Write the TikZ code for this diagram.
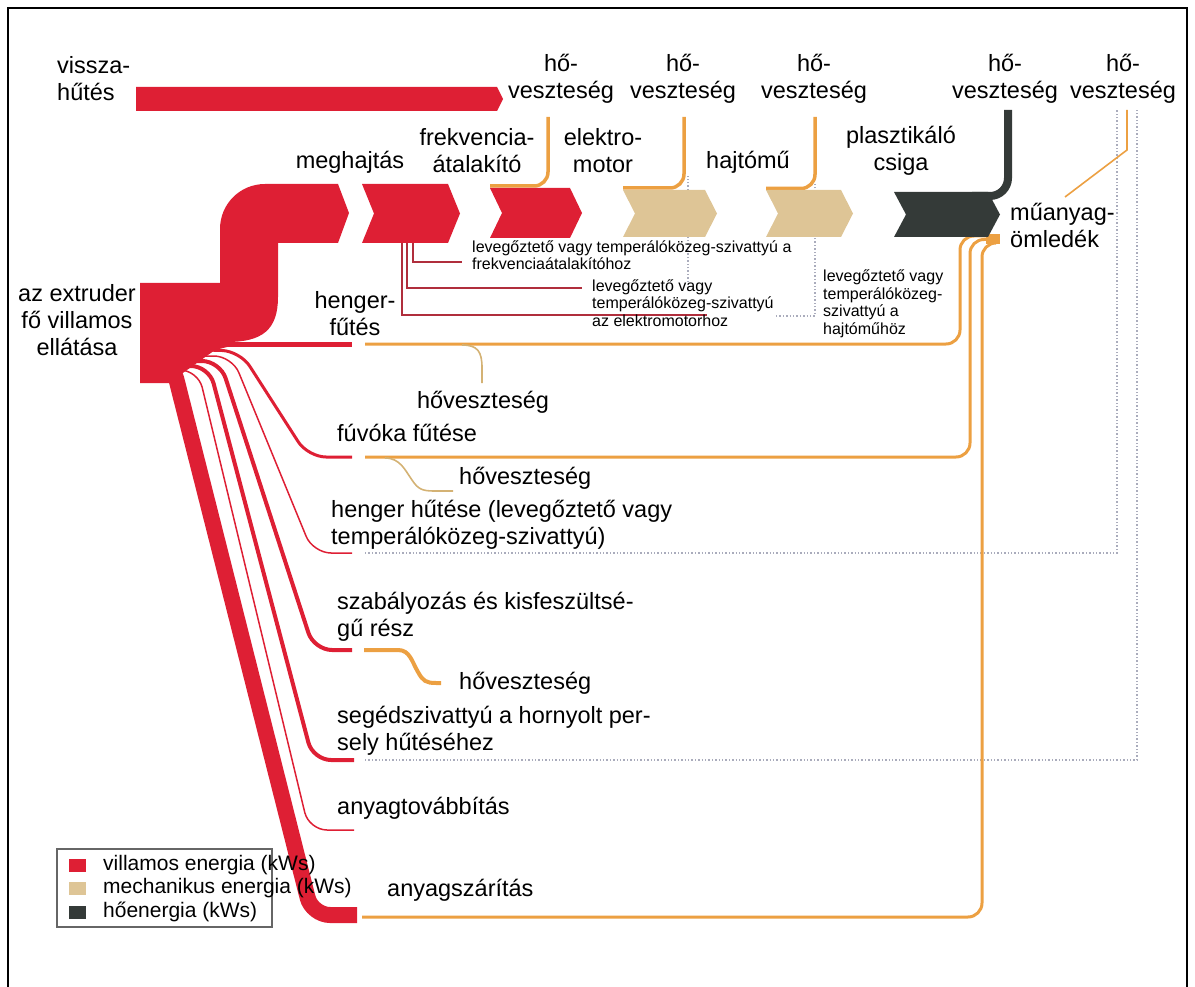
\documentclass[tikz,border=0pt]{standalone}
\usepackage{fontspec}
\setmainfont{Liberation Sans}
\usepackage{tikz}
\usetikzlibrary{shapes,arrows,chains}
\usepackage{xcolor}
\definecolor{villred}{RGB}{222,31,52}
\definecolor{wirered}{RGB}{176,46,60}
\definecolor{heatorange}{RGB}{236,160,66}
\definecolor{losstan}{RGB}{212,178,116}
\definecolor{mechtan}{RGB}{222,197,150}
\definecolor{heatdark}{RGB}{52,58,56}
\definecolor{coolgray}{RGB}{170,172,188}
\tikzset{
  big/.style={font=\fontsize{23.5}{27}\selectfont,inner sep=0pt,align=center},
  bigleft/.style={font=\fontsize{23.5}{27}\selectfont,inner sep=0pt,align=left,anchor=west},
  small/.style={font=\fontsize{16}{17.5}\selectfont,inner sep=0pt,align=left,anchor=west},
  legendtext/.style={font=\fontsize{21}{24}\selectfont,inner sep=0pt,anchor=west},
  elflow/.style={draw=villred,line width=#1,rounded corners=18pt},
  heatflow/.style={draw=heatorange,line width=#1,rounded corners=14pt},
  darkflow/.style={draw=heatdark,line width=8pt,rounded corners=18pt},
  wire/.style={draw=wirered,line width=1.4pt},
  lossline/.style={draw=losstan,line width=1.6pt},
  coolflow/.style={draw=coolgray,line width=1.4pt,dotted},
  frameline/.style={draw=black,line width=2pt},
  legendframe/.style={draw=black!60,line width=1.2pt}
}
\newcommand{\flowblock}[5]{\fill[#1] (#2,#4) -- (#3,#4) -- ({#3+12},{(#4+#5)/2}) -- (#3,#5) -- (#2,#5) -- ({#2+12},{(#4+#5)/2}) -- cycle;}

\begin{document}
\begin{tikzpicture}[x=1pt,y=-1pt]
\useasboundingbox (0,0) rectangle (1195,987);
\draw[frameline] (8,987) -- (8,8) -- (1187,8) -- (1187,987);

\draw[coolflow] (365,553) -- (1117,553) -- (1117,110);
\draw[coolflow] (365,760) -- (1137,760) -- (1137,110);
\draw[coolflow] (776,316) -- (815,316) -- (815,182);
\draw[coolflow] (688,282) -- (688,176);

\draw[heatflow=3pt] (365,344) -- (960,344) -- (960,236) -- (992,236);
\draw[heatflow=3pt] (365,457) -- (970,457) -- (970,239.5) -- (992,239.5);
\draw[heatflow=3pt] (362,917) -- (982,917) -- (982,243) -- (992,243);
\fill[heatorange] (986,234) rectangle (1000,244);

\draw[heatflow=3.5pt] (548,117) -- (548,186) -- (490,186);
\draw[heatflow=3.5pt] (684,117) -- (684,188) -- (623,188);
\draw[heatflow=3.5pt] (815,117) -- (815,188.5) -- (766,188.5);
\draw[heatflow=1.6pt,rounded corners=0pt] (1127,110) -- (1127,150) -- (1065,197);
\draw[darkflow] (1008,110) -- (1008,196) -- (972,196);

\fill[villred] (136,87) -- (497,87) -- (503,99) -- (497,111) -- (136,111) -- cycle;
\fill[villred] (140,283) -- (220,283) -- (220,229) .. controls (220,204) and (240,184) .. (265,184)
  -- (338,184) -- (349,213) -- (338,243) -- (278,243) -- (278,297)
  .. controls (278,330) and (262,342) .. (227,342) -- (227,347) -- (215,350)
  -- (180,375) -- (172,383) -- (140,383) -- cycle;
\flowblock{villred}{362}{448}{184}{243}
\flowblock{villred}{490}{570}{188}{238}
\flowblock{mechtan}{623}{705}{190}{237}
\flowblock{mechtan}{766}{841}{190}{237}
\flowblock{heatdark}{894}{988}{192}{237}

\draw[wire] (413,243) -- (413,262) -- (462,262);
\draw[wire] (407,243) -- (407,288) -- (582,288);
\draw[wire] (402,243) -- (402,315) -- (707,315);

\draw[elflow=5pt] (215,344) -- (352,344);
\draw[elflow=3pt] (205,350) -- (240,351) -- (308,457) -- (352,457);
\draw[elflow=1.5pt] (200,356) -- (232,356) -- (313,553) -- (352,553);
\draw[elflow=4pt] (190,361) -- (220,361) -- (314,650) -- (352,650);
\draw[elflow=4pt] (185,366) -- (209,366) -- (313,760) -- (354,760);
\draw[elflow=1.5pt] (178,370) -- (198,370) -- (309,830) -- (354,830);
\draw[elflow=16pt] (160,360) -- (172,362) -- (312,915) -- (357,915);

\draw[lossline] (462,345) .. controls (478,345) and (482,352) .. (482,368) -- (482,383);
\draw[lossline] (385,458) .. controls (400,458) and (405,470) .. (412,480) .. controls (418,489) and (422,491) .. (434,491) -- (453,491);
\draw[heatflow=4pt,rounded corners=0pt] (364,650) -- (398,650) .. controls (410,650) and (412,662) .. (418,672) .. controls (423,681) and (426,683) .. (436,683) -- (441,683);

\draw[legendframe] (57,849) rectangle (272,927);
\fill[villred] (69,859) rectangle (86,872);
\fill[mechtan] (69,882) rectangle (86,895);
\fill[heatdark] (69,906) rectangle (86,919);
\node[legendtext] (legel) at (103,865) {villamos energia (kWs)};
\node[legendtext] (legmech) at (103,888) {mechanikus energia (kWs)};
\node[legendtext] (legheat) at (103,912) {hőenergia (kWs)};

\node[bigleft] (vissza) at (57,79) {vissza-\\hűtés};
\node[big] (loss1) at (561,79) {hő-\\veszteség};
\node[big] (loss2) at (683,79) {hő-\\veszteség};
\node[big] (loss3) at (814,79) {hő-\\veszteség};
\node[big] (loss4) at (1005,79) {hő-\\veszteség};
\node[big] (loss5) at (1123,79) {hő-\\veszteség};
\node[big] (drive) at (350,162) {meghajtás};
\node[big] (conv) at (477,151) {frekvencia-\\átalakító};
\node[big] (motor) at (603,151) {elektro-\\motor};
\node[big] (gear) at (748,162) {hajtómű};
\node[big] (screw) at (901,151) {plasztikáló\\csiga};
\node[bigleft] (melt) at (1010,225) {műanyag-\\ömledék};
\node[big] (supply) at (77,320) {az extruder\\fő villamos\\ellátása};
\node[big] (barrelheat) at (355,314) {henger-\\fűtés};
\node[big] (loss6) at (483,402) {hőveszteség};
\node[bigleft] (nozzle) at (337,433) {fúvóka fűtése};
\node[bigleft] (loss7) at (459,478) {hőveszteség};
\node[bigleft] (barrelcool) at (331,525) {henger hűtése (levegőztető vagy\\temperálóközeg-szivattyú)};
\node[bigleft] (control) at (337,617) {szabályozás és kisfeszültsé-\\gű rész};
\node[bigleft] (loss8) at (459,683) {hőveszteség};
\node[bigleft] (pump) at (337,731) {segédszivattyú a hornyolt per-\\sely hűtéséhez};
\node[bigleft] (feed) at (337,808) {anyagtovábbítás};
\node[bigleft] (dryer) at (387,890) {anyagszárítás};
\node[small] (fanconv) at (472,255) {levegőztető vagy temperálóközeg-szivattyú a\\frekvenciaátalakítóhoz};
\node[small] (fanmotor) at (592,303) {levegőztető vagy\\temperálóközeg-szivattyú\\az elektromotorhoz};
\node[small] (fangear) at (823,304) {levegőztető vagy\\temperálóközeg-\\szivattyú a\\hajtóműhöz};
\end{tikzpicture}
\end{document}
